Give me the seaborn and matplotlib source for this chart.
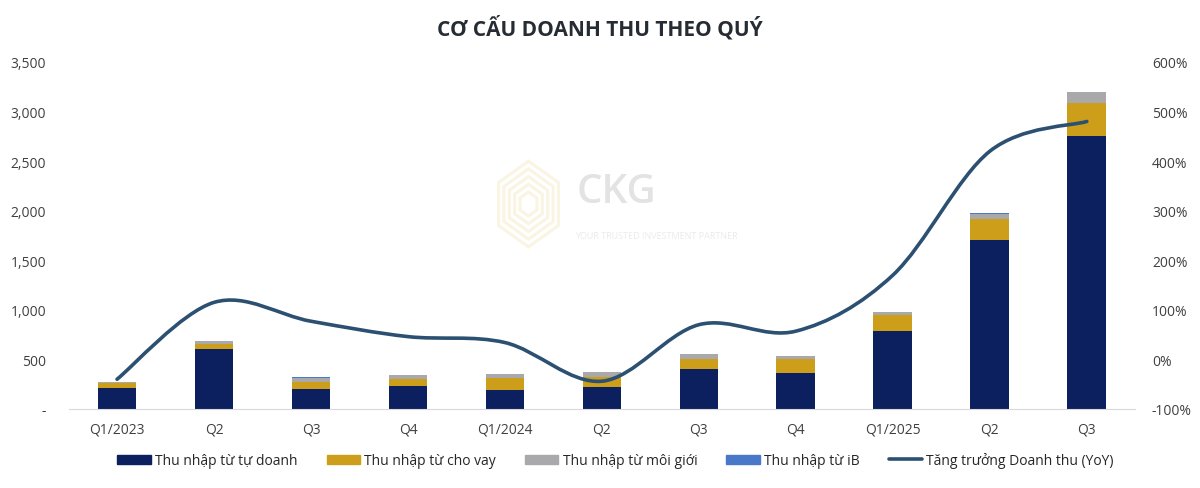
import numpy as np
import pandas as pd
import matplotlib
matplotlib.use("Agg")
import matplotlib.pyplot as plt
import matplotlib.ticker as mticker
from matplotlib.path import Path
from matplotlib.patches import PathPatch, Patch, Polygon
from matplotlib.lines import Line2D
import seaborn as sns

# Data
quarters = ["Q1/2023", "Q2", "Q3", "Q4", "Q1/2024", "Q2", "Q3", "Q4", "Q1/2025", "Q2", "Q3"]
tu_doanh = [209, 608, 205, 235, 195, 225, 400, 366, 790, 1704, 2755]
cho_vay  = [50, 47, 64, 70, 121, 100, 100, 141, 155, 209, 333]
moi_gioi = [12, 31, 40, 34, 37, 48, 51, 25, 31, 57, 110]
ib       = [1, 2, 10, 6, 3, 2, 3, 2, 2, 3, 4]
yoy      = [-40, 115, 77, 46, 34, -44, 70, 57, 170, 420, 480]

labels = ["Thu nhập từ tự doanh", "Thu nhập từ cho vay", "Thu nhập từ môi giới",
          "Thu nhập từ iB", "Tăng trưởng Doanh thu (YoY)"]

# Palette / style
NAVY  = "#0c1f5f"
GOLD  = "#cc9e1a"
GREY  = "#a9a9ab"
BLUE  = "#4a78c8"
LINE  = "#2c5072"
TEXT  = "#404040"

sns.set_theme(style="white")
plt.rcParams["font.family"] = ["Open Sans", "DejaVu Sans"]

df = pd.DataFrame({"pos": range(len(quarters)), "tu_doanh": tu_doanh,
                   "cho_vay": cho_vay, "moi_gioi": moi_gioi, "ib": ib, "yoy": yoy})
df["c1"] = df["tu_doanh"]
df["c2"] = df["c1"] + df["cho_vay"]
df["c3"] = df["c2"] + df["moi_gioi"]
df["c4"] = df["c3"] + df["ib"]

fig = plt.figure(figsize=(12, 4.89), dpi=100)

# faint watermark logo (behind the chart)
logo = fig.add_axes([497 / 1200, 1 - 250 / 489, 63 / 1200, 90 / 489], zorder=-1)
logo.set_xlim(-1.05, 1.05)
logo.set_ylim(-1.05, 1.05)
logo.axis("off")
hexagon = np.array([(0, 1), (1, 0.5), (1, -0.5), (0, -1), (-1, -0.5), (-1, 0.5)])
for k in [1.0, 0.82, 0.64, 0.46, 0.28]:
    logo.add_patch(Polygon(hexagon * k, closed=True, facecolor="none",
                           edgecolor="#faf4e3", linewidth=2.2))

fig.text(0.514, 0.606, "CKG", fontsize=29, fontweight="semibold", color="#e3e3e3",
         ha="center", va="center", zorder=-1)
fig.text(0.547, 0.516, "YOUR TRUSTED INVESTMENT PARTNER", fontsize=6.5,
         color="#ebebeb", ha="center", va="center", zorder=-1)

ax = fig.add_axes([0.0571, 0.1616, 0.889, 0.7096])
ax.patch.set_alpha(0)

# stacked bars: draw cumulative totals from the top layer down
for col, color in [("c4", BLUE), ("c3", GREY), ("c2", GOLD), ("c1", NAVY)]:
    sns.barplot(data=df, x="pos", y=col, color=color, saturation=1,
                width=0.4, linewidth=0, ax=ax)

ax.set_xlim(-0.5, len(quarters) - 0.5)
ax.set_ylim(0, 3500)
ax.yaxis.set_major_locator(mticker.MultipleLocator(500))
ax.yaxis.set_major_formatter(mticker.FuncFormatter(
    lambda v, p: "-" if v == 0 else f"{v:,.0f}"))
ax.set_xticks(range(len(quarters)))
ax.set_xticklabels(quarters)
ax.set_xlabel("")
ax.set_ylabel("")
ax.tick_params(axis="x", length=0, pad=9, labelsize=10, labelcolor=TEXT)
ax.tick_params(axis="y", length=0, pad=16, labelsize=10, labelcolor=TEXT)
for s in ["top", "right", "left"]:
    ax.spines[s].set_visible(False)
ax.spines["bottom"].set_color("#d9d9d9")
ax.spines["bottom"].set_linewidth(0.8)

# growth line on secondary axis, smoothed like Excel
ax2 = ax.twinx()
ax2.set_ylim(-100, 600)
ax2.yaxis.set_major_locator(mticker.MultipleLocator(100))
ax2.yaxis.set_major_formatter(mticker.FuncFormatter(lambda v, p: f"{v:.0f}%"))
ax2.tick_params(axis="y", length=0, pad=12, labelsize=10, labelcolor=TEXT)
for s in ax2.spines.values():
    s.set_visible(False)
ax2.grid(False)

pts = np.column_stack([df["pos"].to_numpy(float), df["yoy"].to_numpy(float)])
ext = np.vstack([pts[0], pts, pts[-1]])
verts = [tuple(pts[0])]
codes = [Path.MOVETO]
for i in range(len(pts) - 1):
    p0, p1, p2, p3 = ext[i], ext[i + 1], ext[i + 2], ext[i + 3]
    verts += [tuple(p1 + (p2 - p0) / 6), tuple(p2 - (p3 - p1) / 6), tuple(p2)]
    codes += [Path.CURVE4] * 3
ax2.add_patch(PathPatch(Path(verts, codes), facecolor="none", edgecolor=LINE,
                        linewidth=2.6, capstyle="round", zorder=5))

fig.text(0.5, 0.943, "CƠ CẤU DOANH THU THEO QUÝ", fontsize=15, fontweight="bold",
         color="#262c33", ha="center", va="center")

handles = [Patch(color=NAVY), Patch(color=GOLD), Patch(color=GREY), Patch(color=BLUE),
           Line2D([0], [0], color=LINE, linewidth=2.6)]
fig.legend(handles, labels, loc="center", bbox_to_anchor=(0.513, 0.057), ncol=5,
           frameon=False, fontsize=10, handlelength=2.4, handleheight=0.6,
           handletextpad=0.3, columnspacing=2.1, labelcolor="#262626")

fig.savefig("out.png", dpi=100)
